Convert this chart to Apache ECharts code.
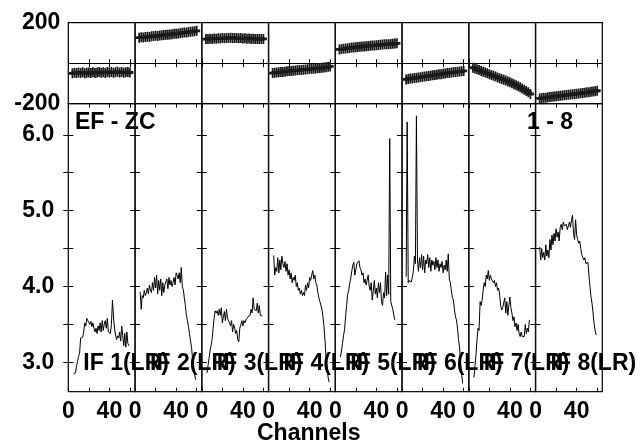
<!DOCTYPE html>
<html><head><meta charset="utf-8">
<script src="https://cdn.jsdelivr.net/npm/echarts@6/dist/echarts.min.js"></script>
<style>html,body{margin:0;padding:0;background:#fff}#c{width:641px;height:445px}</style>
</head><body><div id="c"></div>
<script>
// ---------- data ----------
const panelNames = ['IF 1(LR)','IF 2(LR)','IF 3(LR)','IF 4(LR)','IF 5(LR)','IF 6(LR)','IF 7(LR)','IF 8(LR)'];
const ampStartChannel = [5,5,5,5,5,4,5,4];
const amp1 = [2.85,2.85,2.86,2.95,3.01,3.08,
  3.12,3.32,3.34,3.33,3.40,3.52,3.48,3.58,3.55,3.57,
  3.50,3.54,3.47,3.52,3.45,3.40,3.45,3.38,3.48,3.42,
  3.52,3.40,3.55,3.42,3.50,3.55,3.45,3.58,3.40,3.42,
  3.38,3.50,3.82,3.60,3.45,3.36,3.30,3.35,3.32,3.40,
  3.28,3.48,3.35,3.22,3.38,3.20,3.40,3.25,3.22];
const amp2 = [3.93,3.70,3.88,3.85,3.95,3.88,
  3.92,3.98,3.90,4.02,3.95,3.92,4.05,3.95,4.12,3.98,
  4.15,3.90,4.08,3.95,4.10,3.88,4.05,3.92,4.02,4.00,
  4.10,3.97,4.12,4.02,4.08,4.00,4.05,4.12,4.02,4.18,
  4.15,4.10,4.18,4.05,4.25,4.00,3.96,3.85,3.75,3.62,
  3.55,3.47,3.38,3.28,3.20,3.05,2.95,2.85,2.77];
const amp3 = [2.86,2.95,3.05,3.15,3.22,3.30,
  3.45,3.58,3.68,3.65,3.68,3.62,3.70,3.62,3.72,3.52,
  3.60,3.67,3.55,3.70,3.58,3.55,3.52,3.48,3.55,3.40,
  3.50,3.45,3.38,3.42,3.30,3.27,3.45,3.50,3.55,3.48,
  3.55,3.52,3.56,3.55,3.60,3.58,3.62,3.70,3.65,3.85,
  3.70,3.72,3.68,3.78,3.65,3.75,3.62,3.62,3.61];
const amp4 = [4.41,4.15,4.25,4.20,4.38,4.18,
  4.35,4.22,4.40,4.30,4.25,4.33,4.20,4.30,4.15,4.22,
  4.10,4.18,4.05,4.12,4.08,4.15,4.00,4.05,3.95,3.98,
  3.90,3.95,3.88,3.92,3.88,4.02,3.95,4.05,3.98,4.12,
  4.08,4.15,4.21,4.10,4.15,4.05,4.02,3.92,3.85,3.80,
  3.78,3.70,3.60,3.47,3.29,3.05,2.94,2.80,2.74];
const amp5 = [3.07,3.15,3.25,3.35,3.43,3.60,
  3.75,3.89,3.95,4.04,4.10,4.20,4.28,4.32,4.15,4.22,
  4.30,4.28,4.34,4.25,4.22,4.15,4.18,4.05,4.10,4.02,
  4.08,4.15,4.00,3.95,4.05,3.82,3.95,4.08,3.90,3.98,
  3.85,4.05,3.92,4.05,3.80,3.75,3.92,3.85,4.19,3.88,
  4.15,3.90,5.95,3.80,3.82,3.70,3.62,3.56];
const amp6 = [4.13,6.17,4.05,4.08,4.10,4.06,4.12,
  4.20,4.40,4.30,6.25,4.35,4.20,4.38,4.25,4.42,4.22,
  4.40,4.18,4.35,4.30,4.42,4.25,4.38,4.20,4.35,4.28,
  4.33,4.22,4.38,4.25,4.35,4.20,4.30,4.25,4.33,4.18,
  4.28,4.22,4.35,4.20,4.43,4.10,4.05,3.95,3.85,3.82,
  3.70,3.60,3.56,3.45,3.30,3.20,3.00,2.85,2.72];
const amp7 = [2.80,2.95,3.10,3.30,3.45,3.42,
  3.80,3.75,3.82,3.95,4.05,4.00,4.15,4.10,4.21,4.08,
  4.15,4.10,4.12,4.05,4.08,4.00,4.05,3.95,3.98,3.90,
  3.75,3.69,3.72,3.70,3.85,3.65,3.80,3.62,3.75,3.86,
  3.72,3.65,3.55,3.60,3.47,3.52,3.42,3.50,3.38,3.34,
  3.40,3.34,3.35,3.34,3.50,3.38,3.45,3.40,3.56];
const amp8 = [4.52,4.35,4.50,4.38,4.45,4.35,4.55,
  4.40,4.48,4.38,4.62,4.48,4.68,4.55,4.70,4.60,4.76,
  4.65,4.72,4.60,4.78,4.82,4.75,4.85,4.80,4.78,4.82,
  4.75,4.80,4.85,4.78,4.88,4.94,4.70,4.62,4.88,4.68,
  4.62,4.57,4.60,4.50,4.42,4.40,4.35,4.38,4.30,4.28,
  4.32,4.15,4.00,3.86,3.78,3.65,3.51,3.42,3.36];
const ampSeries = [amp1,amp2,amp3,amp4,amp5,amp6,amp7,amp8];

const phaseChannels = [4,6,8,10,12,14,16,18,20,22,24,26,28,30,32,34,36,38,40,42,44,46,48,50,52,54,56,58,60];
const phase1 = [-50,-47,-49,-46,-48,-45,-50,-47,-46,-49,-45,-48,-46,-44,-47,-45,-48,-43,-46,-44,-47,-45,-42,-46,-44,-47,-45,-43,-46];
const phase2 = [126,128,127,130,131,130,133,134,135,134,137,138,139,140,141,142,143,145,146,147,148,150,151,152,154,155,156,158,160];
const phase3 = [119,120,121,120,122,121,123,122,124,123,125,124,126,125,124,125,123,124,122,123,121,122,120,121,120,119,120,119,120];
const phase4 = [-49,-47,-46,-45,-44,-43,-42,-40,-39,-38,-37,-36,-35,-34,-33,-32,-31,-30,-29,-28,-27,-26,-25,-24,-23,-21,-20,-18,-16];
const phase5 = [68,70,71,73,74,75,77,78,79,80,81,82,83,84,85,86,87,88,89,90,91,92,93,94,94,95,96,97,98];
const phase6 = [-80,-78,-76,-75,-73,-72,-70,-69,-67,-66,-64,-63,-61,-60,-58,-57,-55,-54,-52,-51,-49,-48,-46,-45,-44,-42,-41,-40,-38];
const phase7 = [-22,-26,-30,-34,-38,-42,-46,-50,-54,-58,-62,-66,-70,-74,-78,-82,-86,-90,-94,-99,-104,-109,-114,-119,-125,-131,-137,-144,-152];
const phase8 = [-174,-172,-171,-170,-168,-167,-166,-165,-163,-162,-161,-160,-158,-157,-156,-155,-153,-152,-151,-150,-148,-147,-146,-144,-143,-141,-140,-138,-136];
const phaseSeries = [phase1,phase2,phase3,phase4,phase5,phase6,phase7,phase8];

const chanTicks = [0,20,40,60];
const chanLabels = [0,40];
const ampTicks = [3,3.5,4,4.5,5,5.5,6];
const ampLabels = [3,4,5,6];
const phaseLabels = [-200,200];

// ---------- layout ----------
const FONT = "'Liberation Sans', Arial, sans-serif";
const L0 = 68.3, PW = 66.75;
const TOP_T = 22.7, TOP_H = 81, BOT_T = 103.7, BOT_H = 288;
const AMP_MIN = 2.613, AMP_MAX = 6.41;
const CH_MAX = 65;

const grid = [], xAxis = [], yAxis = [], series = [], graphic = [];
const lbl = {fontFamily: FONT, fontWeight: 'bold', fontSize: 23, color: '#000'};

function addGrid(left, top, height, isBottom, panel) {
  const g = grid.length;
  grid.push({left: left, top: top, width: PW, height: height, show: true,
    borderColor: '#111', borderWidth: 1.3, backgroundColor: 'transparent'});
  const xi = xAxis.length, yi = yAxis.length;
  ['bottom','top'].forEach((pos, k) => {
    xAxis.push({type: 'value', gridIndex: g, position: pos, min: 0, max: CH_MAX,
      axisLine: {show: false}, splitLine: {show: false},
      axisTick: {show: true, inside: true, length: 4, customValues: chanTicks, lineStyle: {color: '#000', width: 1}},
      axisLabel: (isBottom && k === 0) ? Object.assign({show: true, customValues: chanLabels, margin: 8}, lbl) : {show: false}
    });
  });
  ['left','right'].forEach((pos, k) => {
    if (isBottom) {
      yAxis.push({type: 'value', gridIndex: g, position: pos, min: AMP_MIN, max: AMP_MAX,
        axisLine: {show: false}, splitLine: {show: false},
        axisTick: {show: true, inside: true, length: 5, customValues: ampTicks, lineStyle: {color: '#000', width: 1}},
        axisLabel: (panel === 0 && k === 0) ? Object.assign({show: true, customValues: ampLabels, margin: 14,
          formatter: v => Number(v).toFixed(1)}, lbl) : {show: false}
      });
    } else {
      yAxis.push({type: 'value', gridIndex: g, position: pos, min: -200, max: 200, interval: 200,
        axisLine: {show: false},
        splitLine: {show: k === 0, lineStyle: {color: '#000', width: 1}},
        axisTick: {show: false},
        axisLabel: (panel === 0 && k === 0) ? Object.assign({show: true, customValues: phaseLabels, margin: 8}, lbl) : {show: false}
      });
    }
  });
  return {xi, yi};
}

for (let i = 0; i < 8; i++) {
  const left = L0 + i * PW;
  const top = addGrid(left, TOP_T, TOP_H, false, i);
  const bot = addGrid(left, BOT_T, BOT_H, true, i);

  series.push({type: 'line', xAxisIndex: top.xi, yAxisIndex: top.yi,
    data: phaseChannels.map((c, j) => [c, phaseSeries[i][j]]),
    symbol: 'path://M3,0h2v3.6h3v2.8h-3v3.6h-2v-3.6h-3v-2.8h3z', symbolSize: [7, 10],
    itemStyle: {color: '#1a1a1a'}, lineStyle: {color: '#000', width: 2}, silent: true, animation: false});

  series.push({type: 'line', xAxisIndex: bot.xi, yAxisIndex: bot.yi,
    data: ampSeries[i].map((v, j) => [ampStartChannel[i] + j, v]),
    showSymbol: false, symbol: 'none', lineStyle: {color: '#000', width: 1}, silent: true, animation: false});

  graphic.push({type: 'text', left: left + 15, top: 352,
    style: {text: panelNames[i], font: 'bold 23px ' + FONT, fill: '#000'}});
}
graphic.push({type: 'text', left: 75, top: 111, style: {text: 'EF - ZC', font: 'bold 23px ' + FONT, fill: '#000'}});
graphic.push({type: 'text', left: 527, top: 111, style: {text: '1 - 8', font: 'bold 23px ' + FONT, fill: '#000'}});
graphic.push({type: 'text', left: 257, top: 422, style: {text: 'Channels', font: 'bold 23px ' + FONT, fill: '#000'}});

const chart = echarts.init(document.getElementById('c'), null, {renderer: 'canvas'});
chart.setOption({animation: false, backgroundColor: '#fff', grid, xAxis, yAxis, series, graphic});
</script></body></html>
